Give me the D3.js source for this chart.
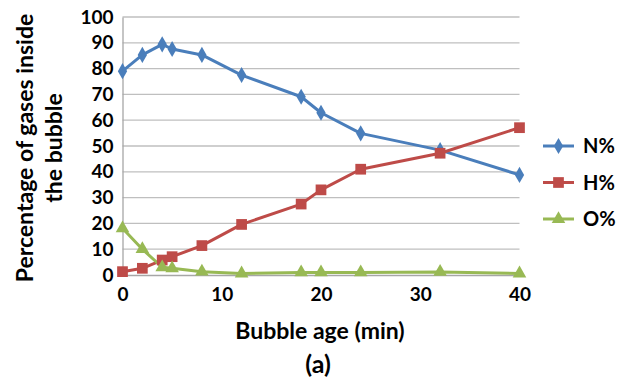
<!DOCTYPE html>
<html>
<head>
<meta charset="utf-8">
<script src="https://cdn.jsdelivr.net/npm/d3@7"></script>
<style>
  body { margin: 0; background: #fff; }
  text { font-family: Lato, "Open Sans", sans-serif; font-weight: bold; fill: #000; }
</style>
</head>
<body>
<script>
// values
const ages = [0, 2, 4, 5, 8, 12, 18, 20, 24, 32, 40];
const nitrogen = [79, 85.3, 89.4, 87.6, 85.3, 77.5, 69.1, 62.9, 54.9, 48.4, 38.8];
const hydrogen = [1.3, 2.6, 5.8, 7.1, 11.4, 19.6, 27.5, 33, 41, 47.2, 57.1];
const oxygen = [18.1, 10, 3, 2.6, 1.3, 0.6, 1, 1, 1, 1.2, 0.6];
const seriesNames = ["N%", "H%", "O%"];
const xTicks = [0, 10, 20, 30, 40];
const yTicks = [0, 10, 20, 30, 40, 50, 60, 70, 80, 90, 100];

const WIDTH = 626;
const HEIGHT = 385;
const PLOT = { left: 122.5, right: 519.5, top: 17, bottom: 275 };

const series = [
  { name: seriesNames[0], values: nitrogen, color: "#4a7ebb", shape: d3.symbolDiamond, size: 75 },
  { name: seriesNames[1], values: hydrogen, color: "#be4b48", shape: d3.symbolSquare, size: 115 },
  { name: seriesNames[2], values: oxygen, color: "#98b954", shape: d3.symbolTriangle, size: 80 }
];

const svg = d3.select("body").append("svg")
  .attr("width", WIDTH)
  .attr("height", HEIGHT);

const x = d3.scaleLinear().domain([0, 40]).range([PLOT.left, PLOT.right]);
const y = d3.scaleLinear().domain([0, 100]).range([PLOT.bottom, PLOT.top]);

// horizontal gridlines
svg.append("g")
  .selectAll("line")
  .data(yTicks.filter(t => t > 0))
  .enter().append("line")
  .attr("x1", PLOT.left)
  .attr("x2", PLOT.right)
  .attr("y1", d => y(d))
  .attr("y2", d => y(d))
  .attr("stroke", "#bfbfbf")
  .attr("stroke-width", 1.3);

// axes
const yAxis = svg.append("g")
  .attr("transform", `translate(${PLOT.left},0)`)
  .call(d3.axisLeft(y).tickValues(yTicks).tickSize(0).tickPadding(9));
const xAxis = svg.append("g")
  .attr("transform", `translate(0,${PLOT.bottom})`)
  .call(d3.axisBottom(x).tickValues(xTicks).tickSize(0).tickPadding(9));
[yAxis, xAxis].forEach(ax => {
  ax.select(".domain").attr("stroke", "#a6a6a6").attr("stroke-width", 1.3);
  ax.selectAll("text").style("font-size", "19px").style("font-family", "Lato, sans-serif");
});
xAxis.selectAll("text").attr("dy", "0.9em");

// lines and markers
const line = d3.line()
  .x((d, i) => x(ages[i]))
  .y(d => y(d));

series.forEach(s => {
  svg.append("path")
    .datum(s.values)
    .attr("d", line)
    .attr("fill", "none")
    .attr("stroke", s.color)
    .attr("stroke-width", 3)
    .attr("stroke-linejoin", "round");
});
series.forEach(s => {
  svg.append("g")
    .selectAll("path")
    .data(s.values)
    .enter().append("path")
    .attr("transform", (d, i) => `translate(${x(ages[i])},${y(d)})`)
    .attr("d", d3.symbol().type(s.shape).size(s.size))
    .attr("fill", s.color);
});

// legend
const legend = svg.append("g")
  .selectAll("g")
  .data(series)
  .enter().append("g")
  .attr("transform", (d, i) => `translate(543,${146 + i * 36.5})`);
legend.append("line")
  .attr("x1", 0).attr("x2", 31)
  .attr("stroke", d => d.color)
  .attr("stroke-width", 3);
legend.append("path")
  .attr("transform", "translate(15.5,0)")
  .attr("d", d => d3.symbol().type(d.shape).size(d.size)())
  .attr("fill", d => d.color);
legend.append("text")
  .attr("x", 40)
  .attr("dy", "0.36em")
  .style("font-size", "20px")
  .text(d => d.name);

// titles
svg.append("text")
  .attr("transform", "translate(25,148) rotate(-90)")
  .attr("text-anchor", "middle")
  .attr("dy", "0.36em")
  .style("font-size", "23px")
  .text("Percentage of gases inside");
svg.append("text")
  .attr("transform", "translate(54,148) rotate(-90)")
  .attr("text-anchor", "middle")
  .attr("dy", "0.36em")
  .style("font-size", "23px")
  .text("the bubble");
svg.append("text")
  .attr("x", 320)
  .attr("y", 331)
  .attr("text-anchor", "middle")
  .attr("dy", "0.36em")
  .style("font-size", "23px")
  .text("Bubble age (min)");
svg.append("text")
  .attr("x", 318)
  .attr("y", 364)
  .attr("text-anchor", "middle")
  .attr("dy", "0.36em")
  .style("font-size", "25px")
  .text("(a)");
</script>
</body>
</html>
